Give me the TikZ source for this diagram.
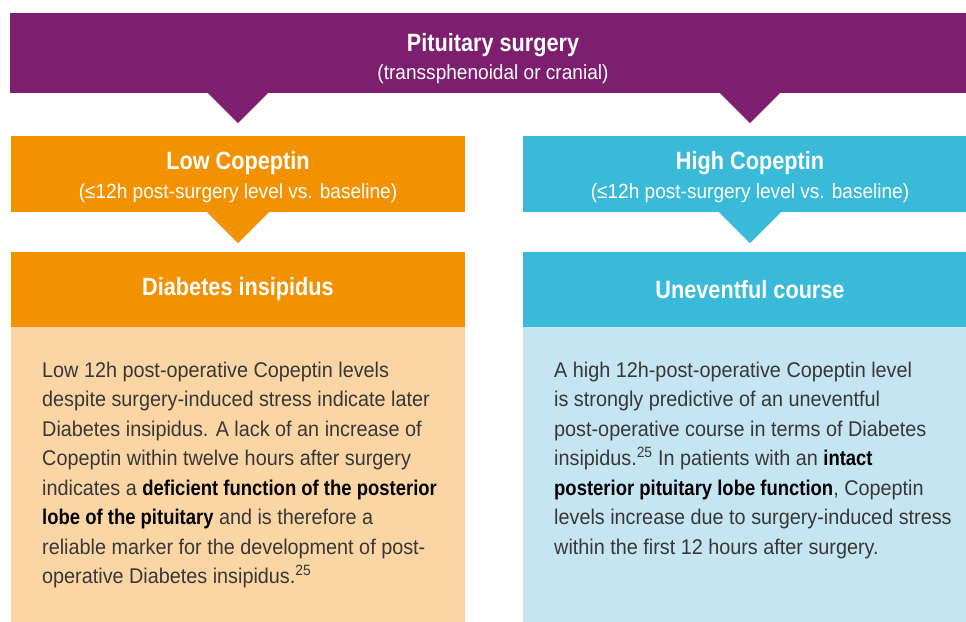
\documentclass[tikz,border=0pt]{standalone}
\usepackage{fontspec}
\setmainfont{Liberation Sans}[FakeStretch=0.93,BoldFeatures={FakeStretch=0.867}]
\usetikzlibrary{positioning}
\definecolor{surgpurple}{RGB}{125,31,110}
\definecolor{loworange}{RGB}{243,146,0}
\definecolor{lowpale}{RGB}{251,214,164}
\definecolor{highblue}{RGB}{57,186,216}
\definecolor{highpale}{RGB}{197,229,242}
\definecolor{bodygray}{RGB}{55,55,55}
\newcommand{\strongtxt}[1]{{\bfseries\color{black}#1}}
\begin{document}
\begin{tikzpicture}[x=1pt,y=-1pt,
    box/.style={rectangle,inner sep=0pt,minimum width=454pt,align=center,text=white},
    headbox/.style={box,minimum height=76pt},
    resultbox/.style={box,minimum height=75pt,font=\fontsize{25}{30}\selectfont\bfseries},
    bodybox/.style={box,minimum height=300pt,anchor=north},
    titletext/.style={anchor=base,inner sep=0pt,text=white,font=\fontsize{25}{30}\selectfont\bfseries},
    subtext/.style={anchor=base,inner sep=0pt,text=white,font=\fontsize{20.5}{24}\selectfont},
    bodytext/.style={anchor=base west,inner sep=0pt,align=left,text=bodygray,font=\fontsize{21.3}{29.5}\selectfont}]
\useasboundingbox (0,0) rectangle (966,621);
% top banner
\node [box,fill=surgpurple,minimum width=966pt,minimum height=80pt] (surgery) at (493,53) {};
\node [titletext] (surgerytitle) at (493,51) {Pituitary surgery};
\node [subtext] (surgerysub) at (493,79) {(transsphenoidal or cranial)};
% copeptin level
\node [headbox,fill=loworange] (low) at (238,174) {};
\node [titletext] (lowtitle) at (238,169.3) {Low Copeptin};
\node [subtext] (lowsub) at (238,198) {(≤12h post-surgery level vs. baseline)};
\node [headbox,fill=highblue] (high) at (750,174) {};
\node [titletext] (hightitle) at (750,169.3) {High Copeptin};
\node [subtext] (highsub) at (750,198) {(≤12h post-surgery level vs. baseline)};
% outcome
\node [resultbox,fill=loworange] (diab) at (238,289.5) {Diabetes insipidus};
\node [resultbox,fill=highblue] (unev) at (750,289.5) {Uneventful course};
\node [bodybox,fill=lowpale] (lowbody) at (diab.south) {};
\node [bodybox,fill=highpale] (highbody) at (unev.south) {};
% pointers
\foreach \dest/\col in {low/surgpurple,high/surgpurple} {
  \fill [\col] (\dest.north |- surgery.south) ++(-30,0) -- ++(60,0) -- ++(-30,30) -- cycle;
}
\fill [loworange] (low.south) ++(-31,0) -- ++(62,0) -- ++(-31,31) -- cycle;
\fill [highblue] (high.south) ++(-31,0) -- ++(62,0) -- ++(-31,31) -- cycle;
% texts (base = last line)
\node [bodytext] (lowtxt) at (42,583.5) {Low 12h post-operative Copeptin levels\\
despite surgery-induced stress indicate later\\
Diabetes insipidus. A lack of an increase of\\
Copeptin within twelve hours after surgery\\
indicates a \strongtxt{deficient function of the posterior}\\
\strongtxt{lobe of the pituitary} and is therefore a\\
reliable marker for the development of post-\\
operative Diabetes insipidus.\textsuperscript{25}};
\node [bodytext] (hightxt) at (554,554) {A high 12h-post-operative Copeptin level\\
is strongly predictive of an uneventful\\
post-operative course in terms of Diabetes\\
insipidus.\textsuperscript{25} In patients with an \strongtxt{intact}\\
\strongtxt{posterior pituitary lobe function}, Copeptin\\
levels increase due to surgery-induced stress\\
within the first 12 hours after surgery.};
\end{tikzpicture}
\end{document}
